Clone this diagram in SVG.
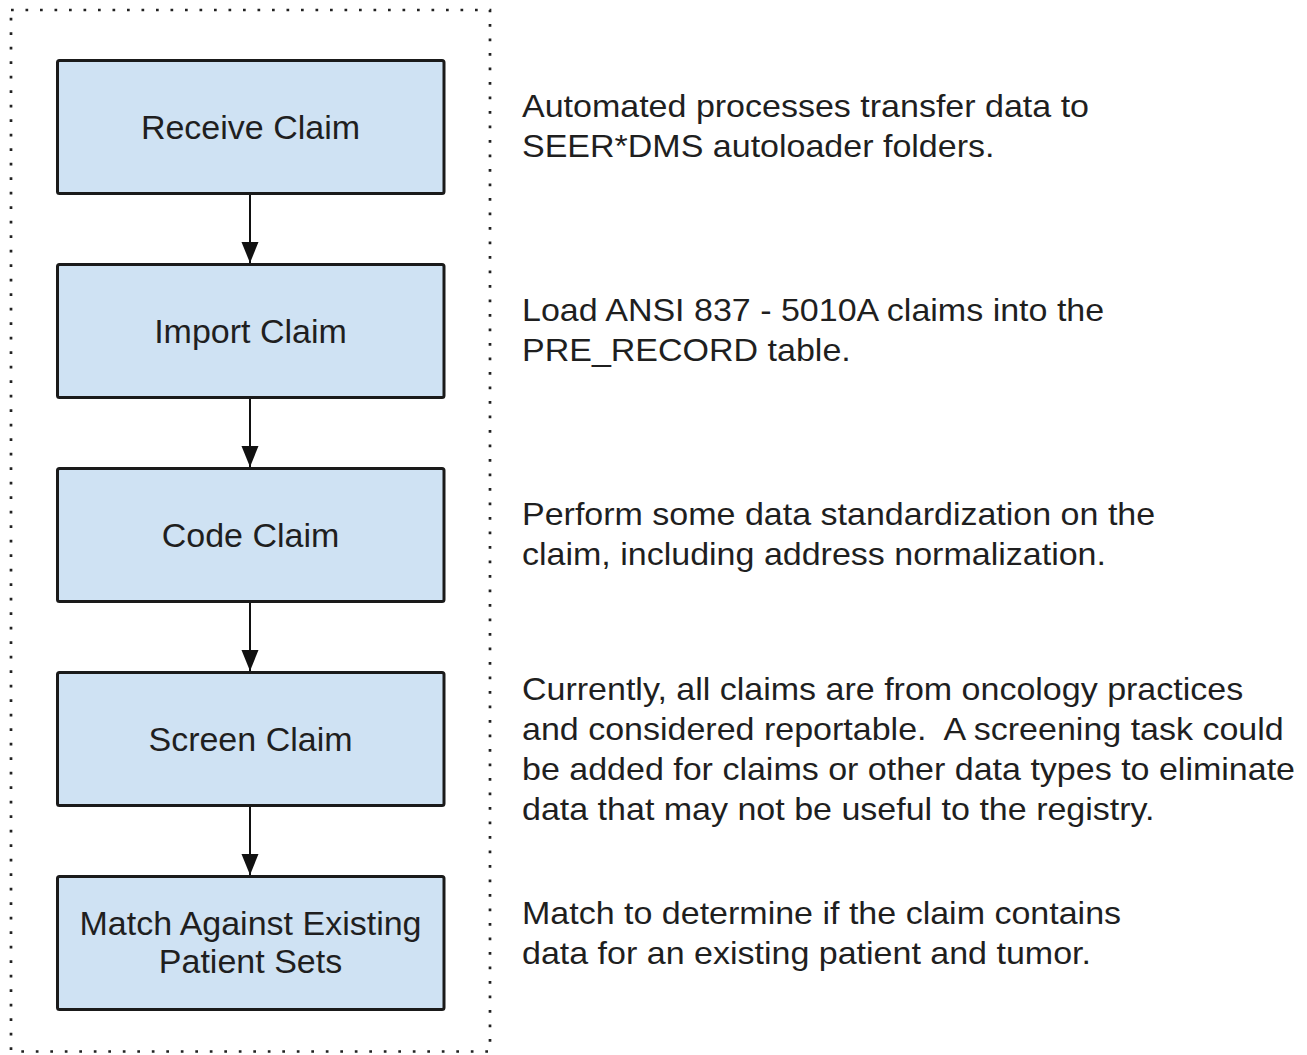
<svg xmlns="http://www.w3.org/2000/svg" width="1307" height="1055" viewBox="0 0 1307 1055">
  <style>
    .box { fill: #cfe2f3; stroke: #1a1a1a; stroke-width: 3; }
    .lbl { font-family: "Liberation Sans", Arial, sans-serif; font-size: 34px; fill: #1f1f1f; text-anchor: middle; }
    .desc { font-family: "Liberation Sans", Arial, sans-serif; font-size: 31.5px; fill: #1f1f1f; white-space: pre; }
    .conn { stroke: #111; stroke-width: 2; fill: none; }
  </style>
  <defs>
    <marker id="arrow" markerUnits="userSpaceOnUse" markerWidth="22" markerHeight="18" refX="21" refY="8.5" orient="auto">
      <path d="M0,0 L21,8.5 L0,17 Z" fill="#111"/>
    </marker>
  </defs>
  <rect id="frame" x="11" y="10" width="479" height="1041.5" fill="none" stroke="#222" stroke-width="2.7" stroke-dasharray="2.7 11.8"/>

  <g id="connectors">
    <line class="conn" x1="250" y1="194" x2="250" y2="263" marker-end="url(#arrow)"/>
    <line class="conn" x1="250" y1="398" x2="250" y2="467" marker-end="url(#arrow)"/>
    <line class="conn" x1="250" y1="602" x2="250" y2="671" marker-end="url(#arrow)"/>
    <line class="conn" x1="250" y1="806" x2="250" y2="875" marker-end="url(#arrow)"/>
  </g>

  <g id="receive">
    <rect class="box" x="57.5" y="60.5" width="386.5" height="133" rx="2"/>
    <text class="lbl" x="250.5" y="139">Receive Claim</text>
  </g>
  <g id="import">
    <rect class="box" x="57.5" y="264.5" width="386.5" height="133" rx="2"/>
    <text class="lbl" x="250.5" y="343">Import Claim</text>
  </g>
  <g id="code">
    <rect class="box" x="57.5" y="468.5" width="386.5" height="133" rx="2"/>
    <text class="lbl" x="250.5" y="547">Code Claim</text>
  </g>
  <g id="screen">
    <rect class="box" x="57.5" y="672.5" width="386.5" height="133" rx="2"/>
    <text class="lbl" x="250.5" y="751">Screen Claim</text>
  </g>
  <g id="match">
    <rect class="box" x="57.5" y="876.5" width="386.5" height="133" rx="2"/>
    <text class="lbl" x="250.5" y="935">Match Against Existing</text>
    <text class="lbl" x="250.5" y="973">Patient Sets</text>
  </g>

  <g id="desc-receive" transform="translate(522,0) scale(1.08,1)">
    <text class="desc" x="0" y="117">Automated processes transfer data to</text>
    <text class="desc" x="0" y="157">SEER*DMS autoloader folders.</text>
  </g>
  <g id="desc-import" transform="translate(522,0) scale(1.08,1)">
    <text class="desc" x="0" y="321">Load ANSI 837 - 5010A claims into the</text>
    <text class="desc" x="0" y="361">PRE_RECORD table.</text>
  </g>
  <g id="desc-code" transform="translate(522,0) scale(1.08,1)">
    <text class="desc" x="0" y="525">Perform some data standardization on the</text>
    <text class="desc" x="0" y="565">claim, including address normalization.</text>
  </g>
  <g id="desc-screen" transform="translate(522,0) scale(1.08,1)">
    <text class="desc" x="0" y="700">Currently, all claims are from oncology practices</text>
    <text class="desc" x="0" y="740" xml:space="preserve">and considered reportable.  A screening task could</text>
    <text class="desc" x="0" y="780">be added for claims or other data types to eliminate</text>
    <text class="desc" x="0" y="820">data that may not be useful to the registry.</text>
  </g>
  <g id="desc-match" transform="translate(522,0) scale(1.08,1)">
    <text class="desc" x="0" y="924">Match to determine if the claim contains</text>
    <text class="desc" x="0" y="964">data for an existing patient and tumor.</text>
  </g>
</svg>
